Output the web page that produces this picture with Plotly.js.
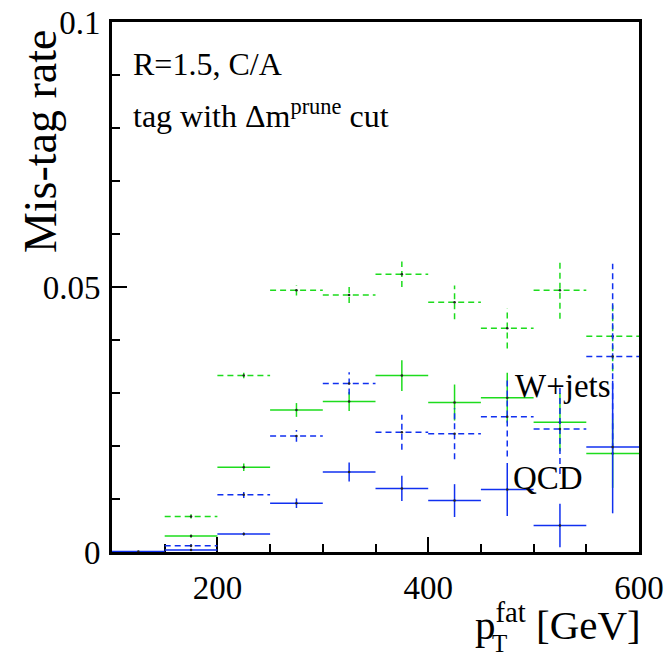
<!DOCTYPE html>
<html>
<head>
<meta charset="utf-8">
<script src="https://cdn.plot.ly/plotly-3.0.1.min.js"></script>
<style>
  html, body { margin: 0; padding: 0; background: #fff; }
  #chart { width: 667px; height: 657px; }
</style>
</head>
<body>
<div id="chart"></div>
<script>
// Bin centres (pT fat, GeV) and half bin width
const binCenters = [125, 175, 225, 275, 325, 375, 425, 475, 525, 575];
const binHalfWidth = 25;

// W+jets (green solid)
const wjetsSolid    = [null, 0.0030, 0.0160, 0.0268, 0.0284, 0.0333, 0.0282, 0.0291, 0.0245, 0.0186];
const wjetsSolidErr = [null, 0.0003, 0.0007, 0.0013, 0.0018, 0.0029, 0.0034, 0.0047, 0.0055, 0.0065];
// W+jets (green dashed)
const wjetsDashed    = [null, 0.0067, 0.0333, 0.0494, 0.0485, 0.0524, 0.0471, 0.0422, 0.0494, 0.0407];
const wjetsDashedErr = [null, 0.0004, 0.0005, 0.0010, 0.0015, 0.0024, 0.0032, 0.0038, 0.0054, 0.0066];
// QCD (blue solid)
const qcdSolid    = [0.0001, 0.0004, 0.0034, 0.0092, 0.0151, 0.0120, 0.0097, 0.0118, 0.0050, 0.0198];
const qcdSolidErr = [0.0000, 0.0002, 0.0003, 0.0009, 0.0018, 0.0024, 0.0031, 0.0050, 0.0041, 0.0125];
// QCD (blue dashed)
const qcdDashed    = [null, 0.0012, 0.0108, 0.0219, 0.0318, 0.0226, 0.0223, 0.0255, 0.0232, 0.0369];
const qcdDashedErr = [null, 0.0003, 0.0006, 0.0011, 0.0021, 0.0033, 0.0048, 0.0075, 0.0085, 0.0175];

const xTickVals = [200, 400, 600];
const xTickText = ['200', '400', '600'];
const yTickVals = [0, 0.05, 0.1];
const yTickText = ['0', '0.05', '0.1'];

const GREEN = '#1ddc1d';
const BLUE = '#1030f0';
const SERIF = 'Liberation Serif, Times New Roman, serif';

function crosses(vals, errs) {
  const xs = [], ys = [];
  for (let i = 0; i < binCenters.length; i++) {
    const v = vals[i];
    if (v === null) continue;
    const c = binCenters[i], e = errs[i];
    xs.push(c - binHalfWidth, c + binHalfWidth, null);
    ys.push(v, v, null);
    if (e > 0) {
      xs.push(c, c, null);
      ys.push(v - e, v + e, null);
    }
  }
  return { xs, ys };
}

function seriesTraces(vals, errs, color, dash, name) {
  const s = crosses(vals, errs);
  const pts = binCenters.map((c, i) => vals[i] === null ? null : c);
  return [
    { type: 'scatter', mode: 'lines', x: s.xs, y: s.ys, name: name,
      connectgaps: false, hoverinfo: 'skip',
      line: { color: color, width: 1.5, dash: dash } },
    { type: 'scatter', mode: 'markers', x: pts, y: vals, name: name + ' pts',
      marker: { color: '#222', size: 2.5 } }
  ];
}

const data = [].concat(
  seriesTraces(wjetsDashed, wjetsDashedErr, GREEN, '6px,4px', 'W+jets dashed'),
  seriesTraces(wjetsSolid, wjetsSolidErr, GREEN, 'solid', 'W+jets'),
  seriesTraces(qcdDashed, qcdDashedErr, BLUE, '6px,4px', 'QCD dashed'),
  seriesTraces(qcdSolid, qcdSolidErr, BLUE, 'solid', 'QCD')
);

const layout = {
  width: 667, height: 657,
  margin: { l: 112, r: 28, t: 22, b: 105, pad: 0 },
  paper_bgcolor: '#fff', plot_bgcolor: '#fff',
  showlegend: false,
  font: { family: SERIF, color: '#000', size: 32 },
  xaxis: {
    range: [100, 600], showgrid: false, zeroline: false,
    showline: true, mirror: true, linecolor: '#000', linewidth: 3,
    layer: 'below traces',
    tickmode: 'array', tickvals: xTickVals, ticktext: xTickText,
    ticks: 'inside', ticklen: 15, tickwidth: 2, tickcolor: '#000',
    ticklabelstandoff: 4,
    tickfont: { family: SERIF, size: 33, color: '#000' },
    minor: { dtick: 50, ticks: 'inside', ticklen: 8, tickwidth: 2, tickcolor: '#000', showgrid: false }
  },
  yaxis: {
    range: [0, 0.1], showgrid: false, zeroline: false,
    showline: true, mirror: true, linecolor: '#000', linewidth: 3,
    layer: 'below traces',
    tickmode: 'array', tickvals: yTickVals, ticktext: yTickText,
    ticks: 'inside', ticklen: 15, tickwidth: 2, tickcolor: '#000',
    ticklabelstandoff: 2,
    tickfont: { family: SERIF, size: 33, color: '#000' },
    minor: { dtick: 0.01, ticks: 'inside', ticklen: 8, tickwidth: 2, tickcolor: '#000', showgrid: false }
  },
  annotations: [
    { text: 'R=1.5, C/A', xref: 'paper', yref: 'paper', x: 0.036, y: 0.921,
      xanchor: 'left', yanchor: 'middle', showarrow: false,
      font: { family: SERIF, size: 32, color: '#000' } },
    { text: 'tag with Δm<sup>prune</sup> cut', xref: 'paper', yref: 'paper', x: 0.036, y: 0.826,
      xanchor: 'left', yanchor: 'middle', showarrow: false,
      font: { family: SERIF, size: 32, color: '#000' } },
    { text: 'W+jets', xref: 'paper', yref: 'paper', x: 0.760, y: 0.313,
      xanchor: 'left', yanchor: 'middle', showarrow: false,
      font: { family: SERIF, size: 33, color: '#000' } },
    { text: 'QCD', xref: 'paper', yref: 'paper', x: 0.757, y: 0.140,
      xanchor: 'left', yanchor: 'middle', showarrow: false,
      font: { family: SERIF, size: 33, color: '#000' } },
    { text: 'Mis-tag rate', xref: 'paper', yref: 'paper', x: -0.137, y: 0.99,
      xanchor: 'center', yanchor: 'top', textangle: -90, showarrow: false,
      font: { family: SERIF, size: 46, color: '#000' } },
    { text: 'p<sup>fat</sup> [GeV]', xref: 'paper', yref: 'paper', x: 1.008, y: -0.185,
      xanchor: 'right', yanchor: 'bottom', showarrow: false,
      font: { family: SERIF, size: 41, color: '#000' } },
    { text: 'T', xref: 'paper', yref: 'paper', x: 0.735, y: -0.2,
      xanchor: 'center', yanchor: 'bottom', showarrow: false, borderpad: 0,
      font: { family: SERIF, size: 25, color: '#000' } }
  ]
};

Plotly.newPlot('chart', data, layout, { displayModeBar: false, staticPlot: true });
</script>
</body>
</html>
